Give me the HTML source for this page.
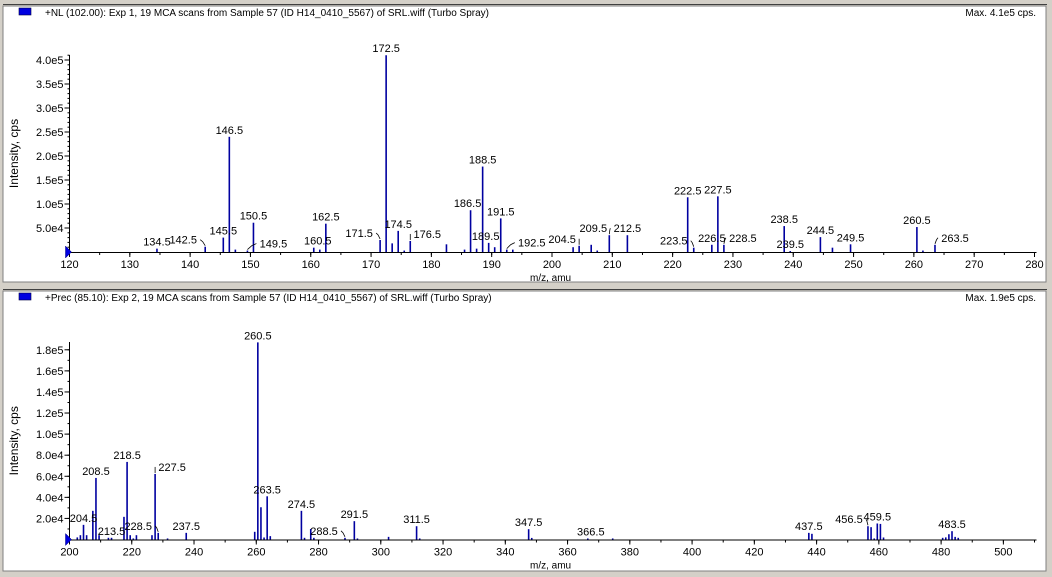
<!DOCTYPE html>
<html><head><meta charset="utf-8">
<style>
html,body{margin:0;padding:0;background:#d4d0c8;}
svg{display:block;font-family:"Liberation Sans",Arial,sans-serif;}
</style></head>
<body>
<svg id="chart" width="1052" height="577" viewBox="0 0 1052 577" xmlns="http://www.w3.org/2000/svg">
<rect x="0" y="0" width="1052" height="577" fill="#d4d0c8"/>
<g id="p1"></g>
<g id="p2"></g>
</svg>
<script>
// ---- Panel 1 data (Neutral loss 102) ----
const mz1 = [134.5,142.5,145.5,146.5,147.5,149.5,150.5,160.5,161.5,162.5,171.5,172.5,173.5,174.5,175.5,176.5,182.5,185.5,186.5,187.5,188.5,189.5,190.5,191.5,192.5,193.5,203.5,204.5,206.5,207.5,209.5,212.5,222.5,223.5,226.5,227.5,228.5,238.5,239.5,244.5,246.5,249.5,260.5,261.5,263.5];
const int1 = [7e3,1.1e4,3.0e4,2.4e5,5e3,3e3,6.1e4,9e3,5e3,5.9e4,2.5e4,4.1e5,1.8e4,4.4e4,3e3,2.3e4,1.6e4,5e3,8.7e4,7e3,1.78e5,1.9e4,1e4,7.0e4,5e3,5e3,1.0e4,1.3e4,1.5e4,3e3,3.5e4,3.5e4,1.14e5,9e3,1.5e4,1.16e5,1.5e4,5.4e4,2e3,3.1e4,9e3,1.6e4,5.2e4,3e3,1.5e4];
const lab1 = [134.5,142.5,145.5,146.5,149.5,150.5,160.5,162.5,171.5,172.5,174.5,176.5,186.5,188.5,189.5,191.5,192.5,204.5,209.5,212.5,222.5,223.5,226.5,227.5,228.5,238.5,239.5,244.5,249.5,260.5,263.5];
const lab1Shift = [0,-22,0,0,26,0,4,0,-21,0,0,17,-3,0,-3,0,25,-17,-16,0,0,-20,0,0,19,0,0,0,0,0,20];
const yTicks1 = [5e4,1e5,1.5e5,2e5,2.5e5,3e5,3.5e5,4e5];
const yTickLabels1 = ["5.0e4","1.0e5","1.5e5","2.0e5","2.5e5","3.0e5","3.5e5","4.0e5"];
const xTicks1 = [120,130,140,150,160,170,180,190,200,210,220,230,240,250,260,270,280];

// ---- Panel 2 data (Precursor 85.1) ----
const mz2 = [202.5,203.5,204.5,205.5,207.5,208.5,209.5,212.5,213.5,217.5,218.5,219.5,220.5,221.5,226.5,227.5,228.5,231.5,237.5,259.5,260.5,261.5,262.5,263.5,264.5,274.5,275.5,277.5,278.5,288.5,291.5,292.5,302.5,311.5,312.5,347.5,348.5,366.5,374.5,437.5,438.5,456.5,457.5,458.5,459.5,460.5,461.5,480.5,481.5,482.5,483.5,484.5,485.5];
const int2 = [2e3,4.1e3,1.39e4,4.1e3,2.72e4,5.84e4,4.1e3,1.6e3,1.6e3,2.15e4,7.36e4,4.1e3,1e3,4.1e3,4.1e3,6.22e4,6.3e3,1e3,6.3e3,7.3e3,1.87e5,3.06e4,1.9e3,4.1e4,3.2e3,2.72e4,1.6e3,1.0e4,1.6e3,1.6e3,1.74e4,1e3,2.5e3,1.26e4,1e3,9.8e3,1.5e3,1e3,1e3,6.3e3,5.4e3,1.26e4,1.17e4,1e3,1.52e4,1.48e4,1.9e3,1.6e3,2e3,5e3,7.9e3,2.5e3,1.6e3];
const lab2 = [204.5,208.5,213.5,218.5,227.5,228.5,237.5,260.5,263.5,274.5,288.5,291.5,311.5,347.5,366.5,437.5,456.5,459.5,483.5];
const lab2Shift = [0,0,0,0,17,-20,0,0,0,0,-21,0,0,0,3,0,-19,0,0];
const yTicks2 = [2e4,4e4,6e4,8e4,1e5,1.2e5,1.4e5,1.6e5,1.8e5];
const yTickLabels2 = ["2.0e4","4.0e4","6.0e4","8.0e4","1.0e5","1.2e5","1.4e5","1.6e5","1.8e5"];
const xTicks2 = [200,220,240,260,280,300,320,340,360,380,400,420,440,460,480,500];

const NS="http://www.w3.org/2000/svg";
const BLUE="#0000a0";
function mk(parent,tag,attrs,txt){const e=document.createElementNS(NS,tag);for(const k in attrs)e.setAttribute(k,attrs[k]);if(txt!==undefined)e.textContent=txt;parent.appendChild(e);return e;}

function drawPanel(g, cfg){
  const {top,bottom,base,x0,x1,xmin,xmax,ymaxVal,ymaxPx,mz,ints,labs,shifts,yT,yTL,xT,minorX,minorY,title,maxTxt,axisTop} = cfg;
  const X = v => x0 + (v - xmin) * (x1 - x0) / (xmax - xmin);
  const Y = v => base - v * (base - ymaxPx) / ymaxVal;
  const fr = mk(g,'rect',{x:3,y:top,width:1043,height:bottom-top,fill:'#fff',stroke:'#808080','stroke-width':1});
  
  
  mk(g,'line',{x1:3,y1:top-1.5,x2:1047,y2:top-1.5,stroke:'#404040','stroke-width':1});
  const lg = mk(g,'rect',{x:19,y:top+2,width:12,height:7,fill:'#0000e0',stroke:'#000040','stroke-width':0.6});
  
  
  const tt = mk(g,'text',{x:45,y:top+10,'font-size':10,fill:'#000'},title);
  
  
  const mt = mk(g,'text',{x:1036,y:top+10,'font-size':10,'text-anchor':'end',fill:'#000'},maxTxt);
  
  
  const ya = mk(g,'line',{x1:x0,y1:axisTop,x2:x0,y2:base,stroke:'#000','stroke-width':1});
  
  
  const xa = mk(g,'line',{x1:x0,y1:base+0.5,x2:x1+2,y2:base+0.5,stroke:'#000','stroke-width':1});
  
  
  for(let v=minorY; Y(v)>=axisTop; v+=minorY){
    mk(g,'line',{x1:x0-2,y1:Y(v),x2:x0,y2:Y(v),stroke:'#000','stroke-width':1});
  }
  yT.forEach((v,i)=>{
    mk(g,'line',{x1:x0-5,y1:Y(v),x2:x0,y2:Y(v),stroke:'#000','stroke-width':1});
    const t = mk(g,'text',{x:x0-6,y:Y(v)+4,'font-size':11,'text-anchor':'end',fill:'#000'},yTL[i]);
    
    
  });
  for(let v=xmin; v<=xmax+1e-9; v+=minorX){
    mk(g,'line',{x1:X(v),y1:base,x2:X(v),y2:base+3,stroke:'#000','stroke-width':1});
  }
  xT.forEach(v=>{
    mk(g,'line',{x1:X(v),y1:base,x2:X(v),y2:base+5,stroke:'#000','stroke-width':1});
    const t = mk(g,'text',{x:X(v),y:base+16,'font-size':11,'text-anchor':'middle',fill:'#000'},String(v));
    
    
  });
  const xt = mk(g,'text',{x:530,y:base+29,'font-size':10,fill:'#000'},'m/z, amu');
  
  
  const yc=(axisTop+base)/2;
  const yt = mk(g,'text',{x:18,y:yc,'font-size':12,'text-anchor':'middle',fill:'#000',transform:`rotate(-90 18 ${yc})`},'Intensity, cps');
  
  
  const om = mk(g,'polygon',{points:`${x0-4},${base-6} ${x0+2},${base} ${x0-4},${base+6}`,fill:'#0000e0',stroke:'#000080','stroke-width':0.5});
  
  
  mz.forEach((m,i)=>{
    const b = mk(g,'line',{x1:X(m),y1:base,x2:X(m),y2:Y(ints[i]),stroke:BLUE,'stroke-width':1.6});
    
    
  });
  labs.forEach((m,i)=>{
    const idx = mz.indexOf(m);
    const px = X(m), py = Y(ints[idx]);
    const dx = shifts[i];
    const t = mk(g,'text',{x:px+dx,y:py-3,'font-size':11,'text-anchor':'middle',fill:'#000'},m.toFixed(1));
    
    
    if(Math.abs(dx)>10){
      const sx = dx<0 ? px+dx+17 : px+dx-17;
      mk(g,'polyline',{points:`${sx},${py-7} ${(sx+px)/2},${py-5} ${px},${py-1}`,fill:'none',stroke:'#000','stroke-width':0.8});
    }
  });
}

drawPanel(document.getElementById('p1'),{top:6,bottom:282,base:252,x0:69.5,x1:1034.5,xmin:120,xmax:280,ymaxVal:4e5,ymaxPx:60,mz:mz1,ints:int1,labs:lab1,shifts:lab1Shift,yT:yTicks1,yTL:yTickLabels1,xT:xTicks1,minorX:5,minorY:1e4,title:'+NL (102.00): Exp 1, 19 MCA scans from Sample 57 (ID H14_0410_5567) of SRL.wiff (Turbo Spray)',maxTxt:'Max. 4.1e5 cps.',axisTop:55});
drawPanel(document.getElementById('p2'),{top:291,bottom:571,base:539.5,x0:69.5,x1:1034.5,xmin:200,xmax:510,ymaxVal:1.8e5,ymaxPx:349.8,mz:mz2,ints:int2,labs:lab2,shifts:lab2Shift,yT:yTicks2,yTL:yTickLabels2,xT:xTicks2,minorX:10,minorY:1e4,title:'+Prec (85.10): Exp 2, 19 MCA scans from Sample 57 (ID H14_0410_5567) of SRL.wiff (Turbo Spray)',maxTxt:'Max. 1.9e5 cps.',axisTop:342});
</script>
</body></html>
